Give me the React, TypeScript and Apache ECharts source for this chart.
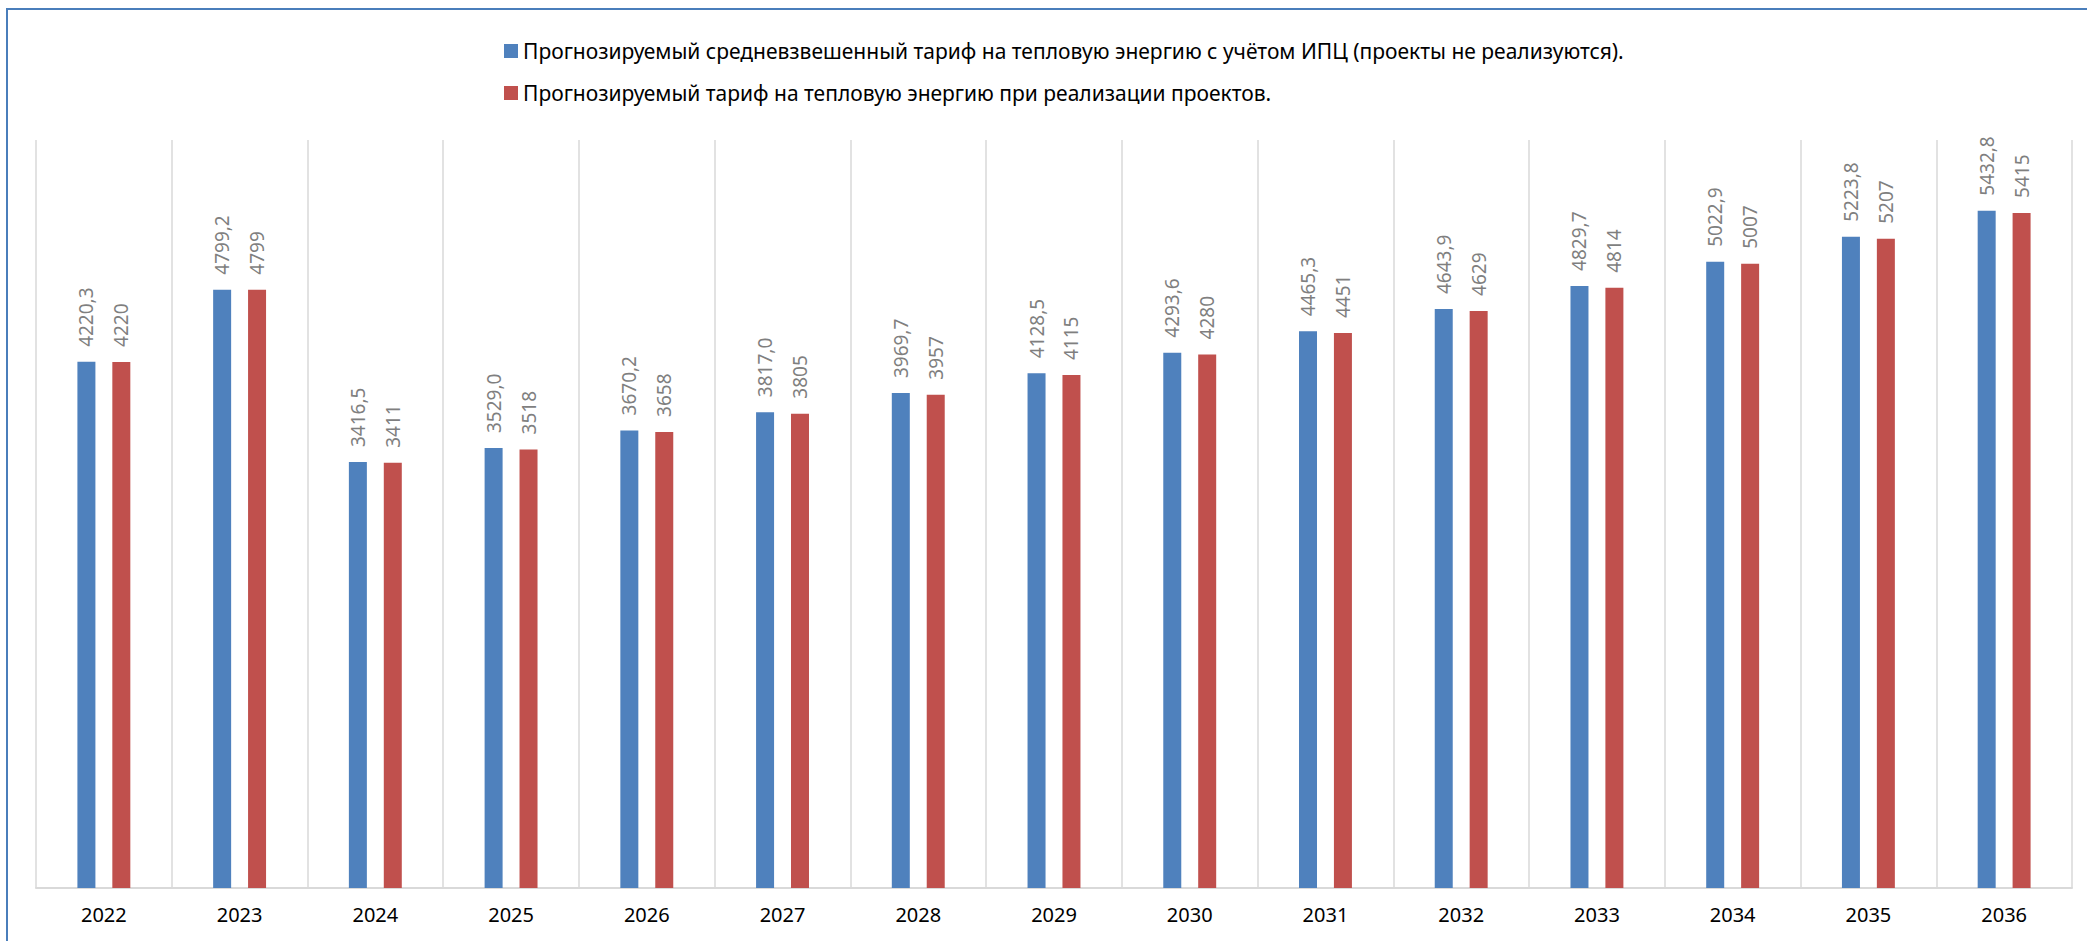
import React, { useEffect, useRef } from "react";
import * as echarts from "echarts";

const years = ["2022", "2023", "2024", "2025", "2026", "2027", "2028", "2029", "2030", "2031", "2032", "2033", "2034", "2035", "2036"];
const baseTariff = [4220.3, 4799.2, 3416.5, 3529.0, 3670.2, 3817.0, 3969.7, 4128.5, 4293.6, 4465.3, 4643.9, 4829.7, 5022.9, 5223.8, 5432.8];
const projectTariff = [4220, 4799, 3411, 3518, 3658, 3805, 3957, 4115, 4280, 4451, 4629, 4814, 5007, 5207, 5415];
const seriesNames = [
  "Прогнозируемый средневзвешенный тариф на тепловую энергию с учётом ИПЦ (проекты не реализуются).",
  "Прогнозируемый тариф на тепловую энергию при реализации проектов.",
];

const FONT = "Noto Sans";

export default function App() {
  const ref = useRef<HTMLDivElement>(null);
  useEffect(() => {
    if (!ref.current) return;
    const chart = echarts.init(ref.current, null, { renderer: "svg" });
    const labelCommon = {
      show: true,
      position: "top",
      rotate: 90,
      align: "left",
      verticalAlign: "middle",
      distance: 15,
      color: "#7F7F7F",
      fontSize: 19,
      fontFamily: FONT,
    };
    chart.setOption({
      animation: false,
      backgroundColor: "#ffffff",
      graphic: [
        {
          type: "rect",
          shape: { x: 7, y: 9, width: 2200, height: 1100 },
          style: { fill: "none", stroke: "#4A7EBB", lineWidth: 2 },
          silent: true,
        },
      ],
      legend: {
        orient: "vertical",
        left: 499,
        top: 35,
        itemWidth: 14,
        itemHeight: 14,
        itemGap: 20,
        icon: "rect",
        textStyle: { fontFamily: FONT, fontSize: 21, color: "#000000", lineHeight: 22 },
        data: seriesNames,
      },
      grid: { left: 36, right: 15, top: 140, bottom: 53, containLabel: false },
      xAxis: {
        type: "category",
        data: years,
        boundaryGap: true,
        axisTick: { show: false },
        axisLine: { lineStyle: { color: "#D9D9D9", width: 2 } },
        splitLine: { show: true, lineStyle: { color: "#D9D9D9", width: 1.5 } },
        axisLabel: { color: "#000000", fontSize: 20, fontFamily: FONT, margin: 16 },
      },
      yAxis: {
        type: "value",
        min: 0,
        max: 6000,
        show: false,
        splitLine: { show: false },
      },
      series: [
        {
          name: seriesNames[0],
          type: "bar",
          data: baseTariff,
          barWidth: 18,
          barGap: "94%",
          itemStyle: { color: "#4F81BD" },
          label: {
            ...labelCommon,
            formatter: (p: any) => Number(p.value).toFixed(1).replace(".", ","),
          },
        },
        {
          name: seriesNames[1],
          type: "bar",
          data: projectTariff,
          barWidth: 18,
          barGap: "94%",
          itemStyle: { color: "#C0504D" },
          label: {
            ...labelCommon,
            formatter: (p: any) => String(p.value),
          },
        },
      ],
    });
    return () => chart.dispose();
  }, []);
  return (
    <div
      ref={ref}
      style={{ position: "fixed", left: 0, top: 0, width: 2087, height: 941, background: "#fff" }}
    />
  );
}
